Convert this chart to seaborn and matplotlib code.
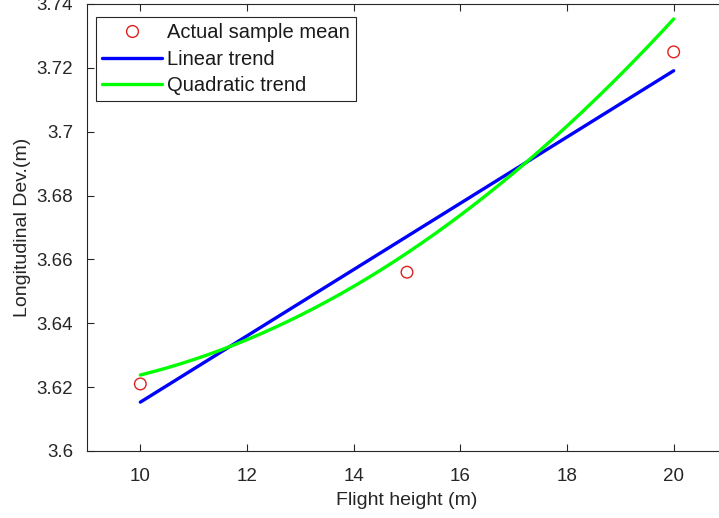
import numpy as np
import matplotlib
matplotlib.use("Agg")
import matplotlib.pyplot as plt
import seaborn as sns
import pandas as pd
from matplotlib.lines import Line2D

# Data
heights = [10, 15, 20]
sample_mean = [3.621, 3.656, 3.725]
# trend curves read at x = 10, 15, 20
linear_trend = [3.6153, 3.6672, 3.7191]
quadratic_trend = [3.6238, 3.662, 3.7353]
x_ticks = [10, 12, 14, 16, 18, 20]
y_ticks = [3.6, 3.62, 3.64, 3.66, 3.68, 3.7, 3.72, 3.74]
y_tick_labels = ["3.6", "3.62", "3.64", "3.66", "3.68", "3.7", "3.72", "3.74"]

sns.set_theme(style="white")
plt.rcParams['font.family'] = ['Liberation Sans', 'DejaVu Sans']

fig = plt.figure(figsize=(7.19, 5.18), dpi=100)
ax = fig.add_axes([87/719, 1-451/518, 640/719, 447/518])

xs = np.linspace(10, 20, 200)
lin = np.polyval(np.polyfit(heights, linear_trend, 1), xs)
quad = np.polyval(np.polyfit(heights, quadratic_trend, 2), xs)
df = pd.DataFrame({"x": xs, "lin": lin, "quad": quad})
pts = pd.DataFrame({"x": heights, "y": sample_mean})

sns.lineplot(data=df, x="x", y="lin", ax=ax, color="#0000ff", linewidth=2.4)
sns.lineplot(data=df, x="x", y="quad", ax=ax, color="#00ff00", linewidth=2.4)
sns.scatterplot(data=pts, x="x", y="y", ax=ax, marker="o", s=70,
                facecolor="none", edgecolor="#e02020", linewidth=1.0, zorder=5)

ax.set_xlim(9, 21)
ax.set_ylim(3.6, 3.74)
ax.set_xticks(x_ticks)
ax.set_xticklabels([str(t) for t in x_ticks])
ax.set_yticks(y_ticks)
ax.set_yticklabels(y_tick_labels)

tc = "#262626"
for s in ax.spines.values():
    s.set_color(tc)
    s.set_linewidth(0.8)
ax.tick_params(direction="in", length=5, width=0.8, color=tc, labelcolor=tc,
               labelsize=13.5, top=True, right=True, bottom=True, left=True)
ax.tick_params(axis="x", pad=12)
ax.tick_params(axis="y", pad=10)
ax.set_xlabel("Flight height (m)", fontsize=14, color=tc, labelpad=5)
ax.set_ylabel("Longitudinal Dev.(m)", fontsize=14, color=tc, labelpad=4)

handles = [
    Line2D([], [], marker="o", linestyle="none", markersize=8.5,
           markerfacecolor="none", markeredgecolor="#e02020", markeredgewidth=1.0),
    Line2D([], [], color="#0000ff", linewidth=2.4),
    Line2D([], [], color="#00ff00", linewidth=2.4),
]
leg = ax.legend(handles, ["Actual sample mean", "Linear trend", "Quadratic trend"],
                loc="upper left", bbox_to_anchor=(0.014, 0.971), fontsize=14.5,
                frameon=True, fancybox=False, edgecolor=tc, framealpha=1,
                handlelength=3.0, handletextpad=0.25, borderpad=0.3,
                labelspacing=0.38, borderaxespad=0)
leg.get_frame().set_linewidth(0.8)
for t in leg.get_texts():
    t.set_color("#1a1a1a")

fig.savefig("out.png", dpi=100)
